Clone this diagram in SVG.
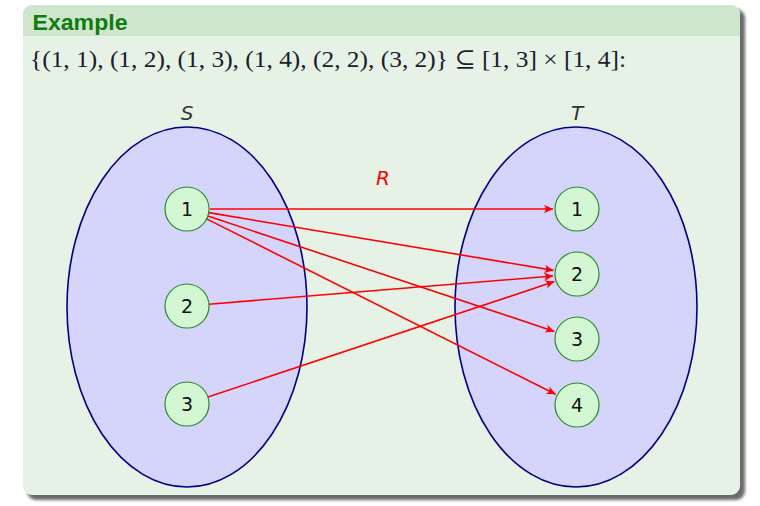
<svg xmlns="http://www.w3.org/2000/svg" width="760" height="506" viewBox="0 0 760 506">
<defs>
<filter id="blur" x="-5%" y="-5%" width="110%" height="110%"><feGaussianBlur stdDeviation="1.6"/></filter>
<clipPath id="boxclip"><rect x="23" y="5" width="717" height="490" rx="9"/></clipPath>
<marker id="arr" viewBox="-10 -5 11 10" refX="0" refY="0" markerWidth="11" markerHeight="10" markerUnits="userSpaceOnUse" orient="auto">
<path d="M0,0 L-9,-4.2 Q-5.5,0 -9,4.2 Z" fill="#ff0000"/>
</marker>
<style>
.set{fill:#d5d5fc;stroke:#000080;stroke-width:1.6}
.node circle{fill:#d3f7d3;stroke:#2a8a2a;stroke-width:1.2}
.node text{font-family:"DejaVu Sans","Liberation Sans",sans-serif;font-size:19px;fill:#111;text-anchor:middle}
.lbl{font-family:"DejaVu Sans","Liberation Sans",sans-serif;font-style:italic;font-size:20px;text-anchor:middle}
.edge{stroke:#ff0000;stroke-width:1.6;fill:none;marker-end:url(#arr)}
</style>
</defs>
<g id="block">
<rect x="27" y="9" width="718" height="491" rx="9" fill="#6a6a6a" filter="url(#blur)"/>
<g clip-path="url(#boxclip)">
<rect x="23" y="5" width="717" height="490" fill="#e6f2e6"/>
<rect x="23" y="5" width="717" height="31" fill="#cde6cd"/>
</g>
<text x="32.5" y="30" font-family="Liberation Sans, Arial, sans-serif" font-weight="bold" font-size="22" fill="#107c10" textLength="95" lengthAdjust="spacingAndGlyphs">Example</text>
<text x="30" y="67" font-family="Liberation Serif, DejaVu Serif, serif" font-size="24" fill="#1c1c2a" textLength="596" lengthAdjust="spacingAndGlyphs">{(1, 1), (1, 2), (1, 3), (1, 4), (2, 2), (3, 2)} ⊆ [1, 3] × [1, 4]:</text>
</g>
<g id="setS">
<ellipse class="set" cx="187" cy="307" rx="120" ry="180"/>
<text class="lbl" x="187" y="120" fill="#333">S</text>
</g>
<g id="setT">
<ellipse class="set" cx="576" cy="307" rx="121" ry="180"/>
<text class="lbl" x="577" y="120" fill="#333">T</text>
</g>
<g id="connectors">
<line class="edge" x1="210" y1="209" x2="553" y2="209"/>
<path class="edge" d="M208.7,212.6 L553.5,270.4"/>
<path class="edge" d="M207.9,216 L554.4,331.4"/>
<path class="edge" d="M206.6,218.9 L555.6,394.3"/>
<path class="edge" d="M208.9,304.2 L553.1,276"/>
<path class="edge" d="M207.9,397 L554.4,281.6"/>
<text class="lbl" x="383" y="185" fill="#ff0000">R</text>
</g>
<g id="s1" class="node"><circle cx="187" cy="209" r="22"/><text x="187" y="216">1</text></g>
<g id="s2" class="node"><circle cx="187" cy="306" r="22"/><text x="187" y="313">2</text></g>
<g id="s3" class="node"><circle cx="187" cy="404" r="22"/><text x="187" y="411">3</text></g>
<g id="t1" class="node"><circle cx="577" cy="209" r="22"/><text x="577" y="216">1</text></g>
<g id="t2" class="node"><circle cx="577" cy="274" r="22"/><text x="577" y="281">2</text></g>
<g id="t3" class="node"><circle cx="577" cy="339" r="22"/><text x="577" y="346">3</text></g>
<g id="t4" class="node"><circle cx="577" cy="405" r="22"/><text x="577" y="412">4</text></g>
</svg>
